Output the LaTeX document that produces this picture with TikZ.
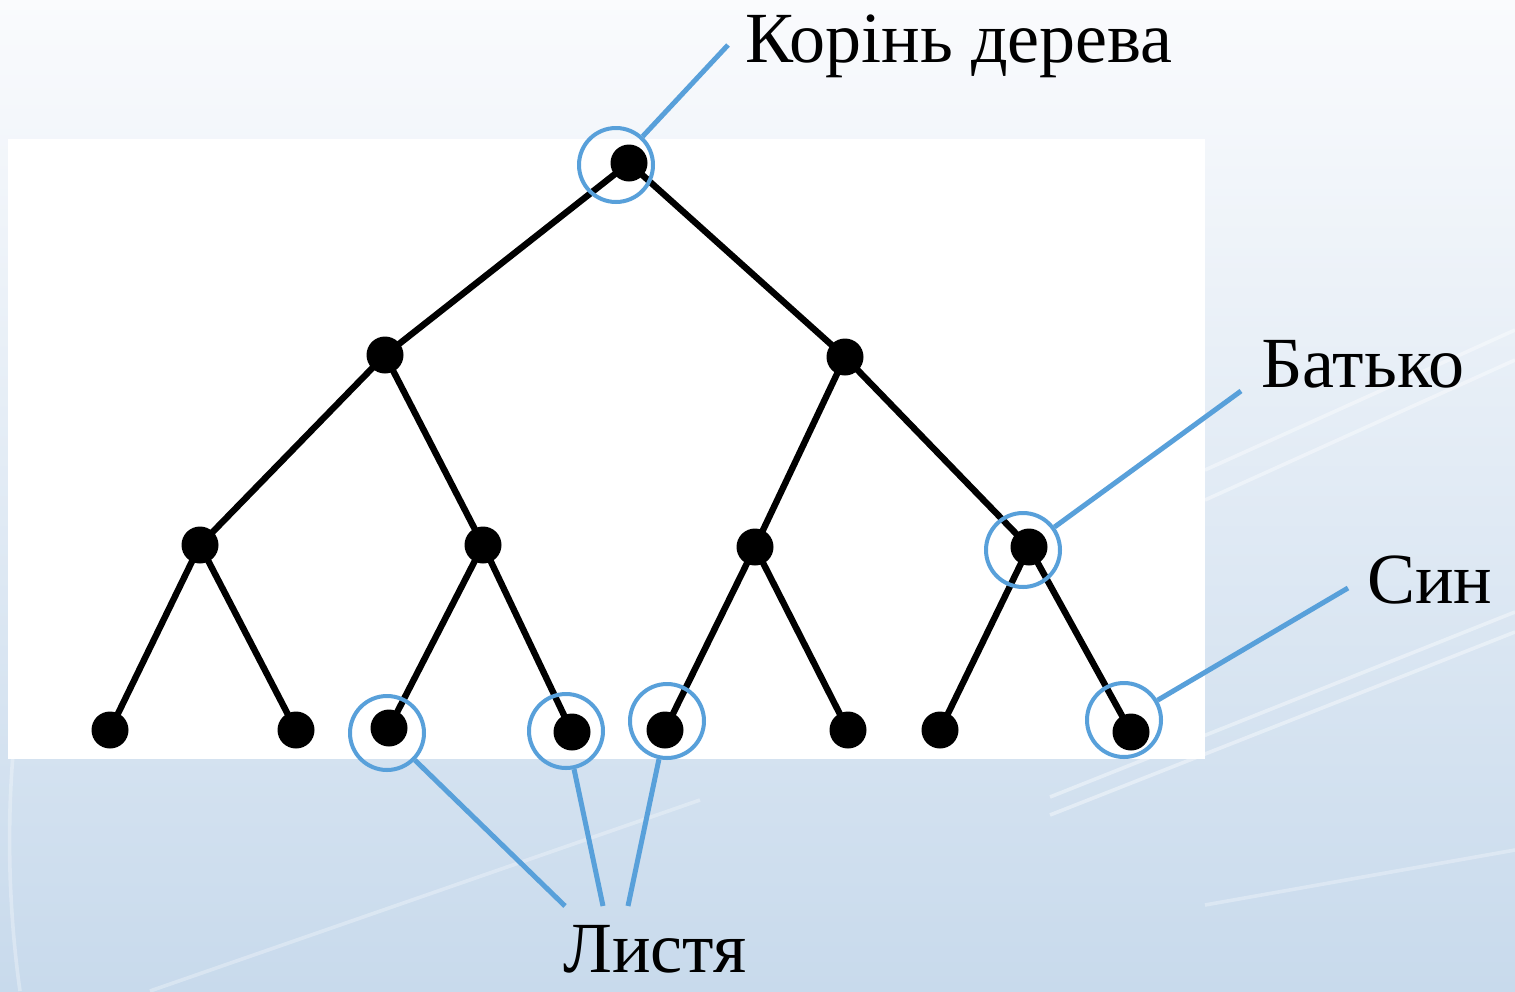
\documentclass[tikz,border=0pt]{standalone}
\usepackage{fontspec}
\setmainfont{Liberation Serif}
\definecolor{callout}{RGB}{88,160,218}
\definecolor{bgtop}{RGB}{250,251,253}
\definecolor{bgmid}{RGB}{228,237,246}
\definecolor{bgbot}{RGB}{200,218,236}
\begin{document}
\begin{tikzpicture}[x=0.5pt,y=-0.5pt,
  vertex/.style={circle,fill=black,inner sep=0pt,minimum size=18.5pt},
  edge/.style={line width=3.2pt,black},
  ring/.style={circle,draw=callout,line width=2pt,inner sep=0pt,minimum size=37pt},
  pointer/.style={callout,line width=2.5pt},
  lbl/.style={font=\fontsize{36}{40}\selectfont,anchor=base west,inner sep=0pt},
  streak/.style={white,line width=1.8pt,opacity=0.4}]
% background
\useasboundingbox (0,0) rectangle (1515,991);
\shade[top color=bgtop,middle color=bgmid,bottom color=bgbot] (0,0) rectangle (1515,991);
\draw[streak] (1050,797) -- (1515,612);
\draw[streak] (1050,815) -- (1515,632);
\draw[streak] (1205,470) -- (1515,330);
\draw[streak] (1205,500) -- (1515,360);
\draw[streak,opacity=0.3] (1205,905) -- (1515,850);
\draw[streak,opacity=0.3] (150,991) -- (700,800);
\draw[streak,opacity=0.3] (20,991) .. controls (0,850) and (10,700) .. (40,600);
\fill[white] (8,139) rectangle (1205,759);
% tree vertices
\node[vertex] (r) at (629,163) {};
\node[vertex] (a) at (385,355) {};
\node[vertex] (b) at (845,357) {};
\node[vertex] (a1) at (200,545) {};
\node[vertex] (a2) at (483,545) {};
\node[vertex] (b1) at (755,547) {};
\node[vertex] (b2) at (1029,547) {};
\node[vertex] (l1) at (110,730) {};
\node[vertex] (l2) at (296,730) {};
\node[vertex] (l3) at (389,728) {};
\node[vertex] (l4) at (572,732) {};
\node[vertex] (l5) at (665,730) {};
\node[vertex] (l6) at (848,730) {};
\node[vertex] (l7) at (940,730) {};
\node[vertex] (l8) at (1131,732) {};
% tree edges
\draw[edge] (r.center) -- (a.center);
\draw[edge] (r.center) -- (b.center);
\draw[edge] (a.center) -- (a1.center);
\draw[edge] (a.center) -- (a2.center);
\draw[edge] (b.center) -- (b1.center);
\draw[edge] (b.center) -- (b2.center);
\draw[edge] (a1.center) -- (l1.center);
\draw[edge] (a1.center) -- (l2.center);
\draw[edge] (a2.center) -- (l3.center);
\draw[edge] (a2.center) -- (l4.center);
\draw[edge] (b1.center) -- (l5.center);
\draw[edge] (b1.center) -- (l6.center);
\draw[edge] (b2.center) -- (l7.center);
\draw[edge] (b2.center) -- (l8.center);
% highlight rings
\node[ring] (cr) at (616,165) {};
\node[ring] (cb) at (1023,550) {};
\node[ring] (c3) at (387,733) {};
\node[ring] (c4) at (566,731) {};
\node[ring] (c5) at (667,721) {};
\node[ring] (c8) at (1124,720) {};
% labels
\node[lbl] (tr) at (745,62) {Корінь дерева};
\node[lbl] (tb) at (1261,387) {Батько};
\node[lbl] (ts) at (1367,603) {Син};
\node[lbl] (tl) at (563,972) {Листя};
% pointer ends
\coordinate (pr) at (728,45);
\coordinate (pb) at (1241,391);
\coordinate (ps) at (1348,588);
\coordinate (pl1) at (565,906);
\coordinate (pl2) at (603,906);
\coordinate (pl3) at (628,906);
\draw[pointer] (cr) -- (pr);
\draw[pointer] (cb) -- (pb);
\draw[pointer] (c8) -- (ps);
\draw[pointer] (c3) -- (pl1);
\draw[pointer] (c4) -- (pl2);
\draw[pointer] (c5) -- (pl3);
\end{tikzpicture}
\end{document}
